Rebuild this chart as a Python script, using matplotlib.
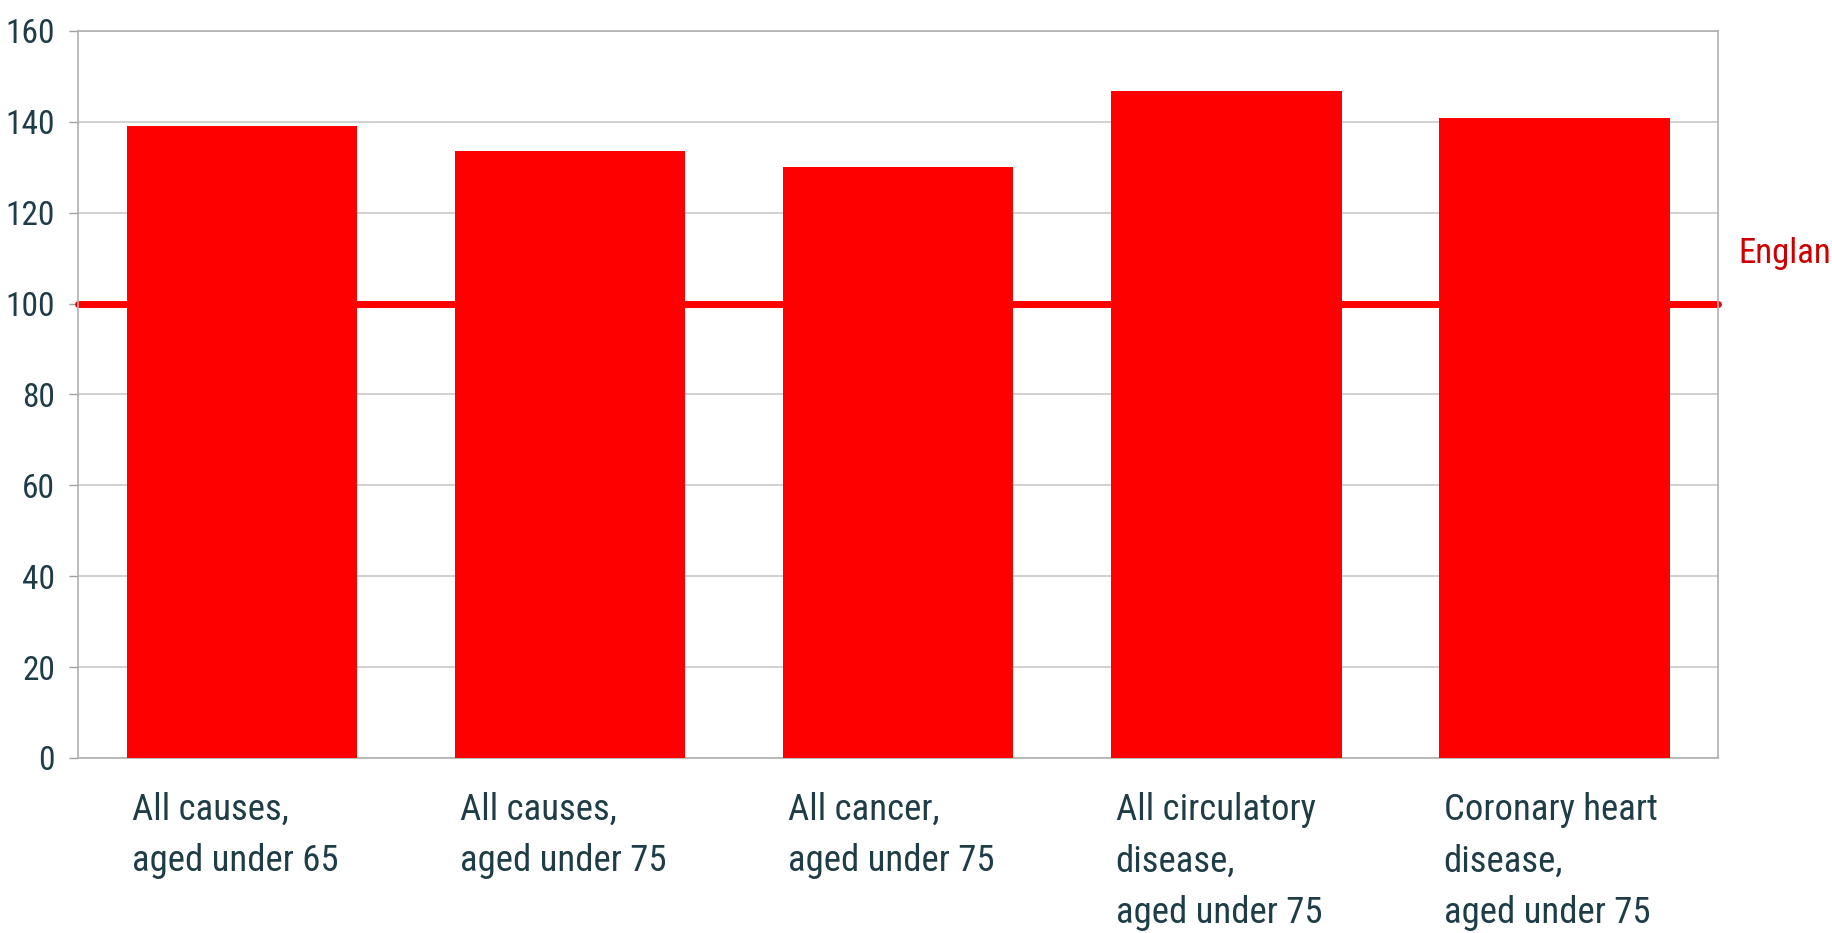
import matplotlib
matplotlib.use("Agg")
import matplotlib.pyplot as plt
from matplotlib import font_manager

categories = [
    "All causes,\naged under 65",
    "All causes,\naged under 75",
    "All cancer,\naged under 75",
    "All circulatory\ndisease,\naged under 75",
    "Coronary heart\ndisease,\naged under 75",
]
values = [139.0, 133.6, 130.0, 146.8, 140.8]
england_value = 100
england_label = "England"
yticks = [0, 20, 40, 60, 80, 100, 120, 140, 160]

names = {f.name for f in font_manager.fontManager.ttflist}
pref = ["Roboto Condensed", "PT Sans Narrow", "Archivo Narrow",
        "Liberation Sans", "DejaVu Sans"]
fam = [f for f in pref if f in names]
plt.rcParams["font.family"] = fam

text_color = "#1E3D47"
fig = plt.figure(figsize=(18.33, 9.33), dpi=100)
ax = fig.add_axes([0.04255, 0.18757, 0.9373 - 0.04255, 0.9668 - 0.18757])

x = list(range(len(categories)))
ax.bar(x, values, width=0.704, color="#FF0000", zorder=3)
ax.plot([-0.5, 4.5], [england_value, england_value], color="#FF0000", lw=5,
        solid_capstyle="round", zorder=2, clip_on=False)
ax.text(1.0125, england_value + 11, england_label, transform=ax.get_yaxis_transform(),
        color="#CC0000", fontsize=25, ha="left", va="center", clip_on=False)

ax.set_xlim(-0.5, 4.5)
ax.set_ylim(0, 160)
ax.set_yticks(yticks)
ax.set_yticklabels([str(v) for v in yticks], fontsize=24, color=text_color)
ax.tick_params(axis="y", direction="out", length=6.5, width=1, color="#A0A0A0", pad=10)
ax.set_xticks([])
ax.grid(axis="y", color="#C8C8C8", lw=1.2, zorder=0)
ax.set_axisbelow(True)
for s in ax.spines.values():
    s.set_color("#B0B0B0")
    s.set_linewidth(1.2)

for i, lab in enumerate(categories):
    ax.annotate(lab, xy=(i - 0.352, 0), xycoords="data", xytext=(5, -34),
                textcoords="offset pixels", ha="left", va="top", fontsize=26.5,
                color=text_color, linespacing=1.55, annotation_clip=False)

fig.savefig("out.png", dpi=100, facecolor="white")
